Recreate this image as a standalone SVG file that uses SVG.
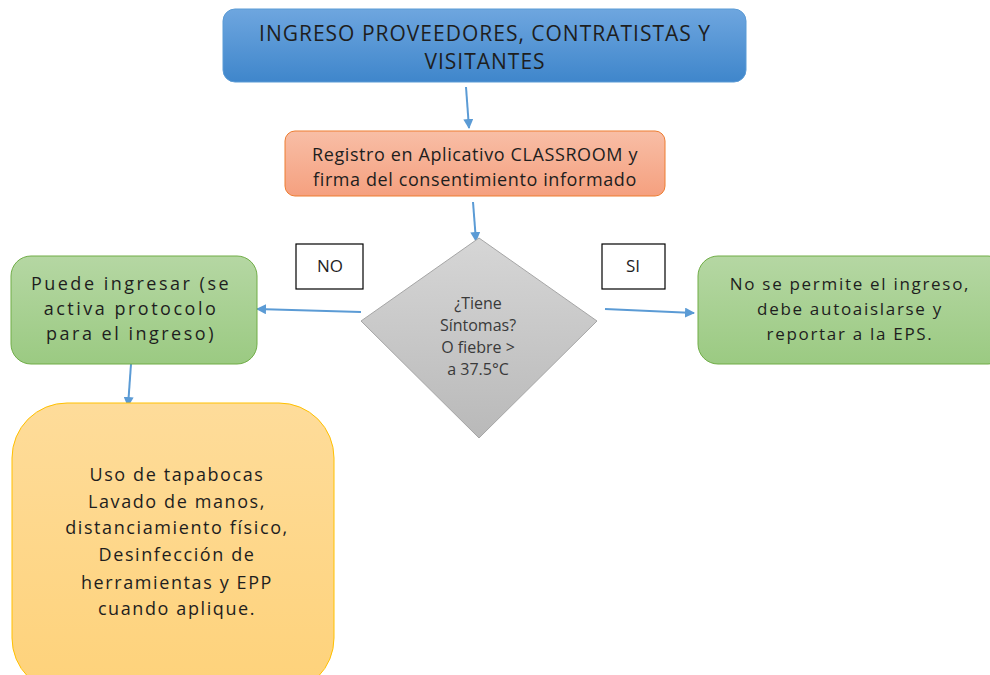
<svg xmlns="http://www.w3.org/2000/svg" width="990" height="675" viewBox="0 0 990 675">
<defs>
<linearGradient id="gBlue" x1="0" y1="0" x2="0" y2="1"><stop offset="0" stop-color="#6ea6df"/><stop offset="1" stop-color="#3f86cb"/></linearGradient>
<linearGradient id="gOrange" x1="0" y1="0" x2="0" y2="1"><stop offset="0" stop-color="#f8bea6"/><stop offset="1" stop-color="#f5a07f"/></linearGradient>
<linearGradient id="gGray" x1="0" y1="0" x2="0" y2="1"><stop offset="0" stop-color="#d6d6d6"/><stop offset="1" stop-color="#b9b9b9"/></linearGradient>
<linearGradient id="gGreen" x1="0" y1="0" x2="0" y2="1"><stop offset="0" stop-color="#b5d7a3"/><stop offset="1" stop-color="#9bca82"/></linearGradient>
<linearGradient id="gYellow" x1="0" y1="0" x2="0" y2="1"><stop offset="0" stop-color="#fedc9a"/><stop offset="1" stop-color="#fed27a"/></linearGradient>
<marker id="arr" viewBox="0 0 10 10" refX="9" refY="5" markerWidth="10" markerHeight="10" markerUnits="userSpaceOnUse" orient="auto"><path d="M0,0 L10,5 L0,10 z" fill="#5b9bd5"/></marker>
</defs>
<style>
text{font-family:"Open Sans","Liberation Sans",sans-serif;fill:#1e1e1e;text-anchor:middle}
.conn{stroke:#5b9bd5;stroke-width:2;fill:none;marker-end:url(#arr)}
.lbl{fill:#fff;stroke:#000;stroke-width:1.2}
.g{font-size:18px;letter-spacing:2.5px}
.y{font-size:18px;letter-spacing:1.6px}
.d{font-size:16px;fill:#3a3a3a}
</style>
<rect width="990" height="675" fill="#fff"/>
<g id="connectors">
<line class="conn" x1="466" y1="87" x2="469" y2="128"/>
<line class="conn" x1="473" y1="202" x2="476" y2="241"/>
<line class="conn" x1="361" y1="312" x2="257" y2="309"/>
<line class="conn" x1="605" y1="309" x2="694" y2="313"/>
<line class="conn" x1="131" y1="364" x2="128" y2="406"/>
</g>
<g id="n-ingreso">
<rect x="223" y="9" width="523" height="73" rx="12" fill="url(#gBlue)" stroke="#5b9bd5" stroke-width="1"/>
<text x="485" y="41" font-size="21" letter-spacing="1">INGRESO PROVEEDORES, CONTRATISTAS Y</text>
<text x="485" y="69" font-size="21" letter-spacing="1">VISITANTES</text>
</g>
<g id="n-registro">
<rect x="285" y="131" width="380" height="65" rx="10" fill="url(#gOrange)" stroke="#ed7d31" stroke-width="1"/>
<text x="475" y="161" font-size="18" letter-spacing="0.6">Registro en Aplicativo CLASSROOM y</text>
<text x="475" y="186" font-size="18" letter-spacing="0.6">firma del consentimiento informado</text>
</g>
<g id="n-decision">
<polygon points="479,238 597,321 479,438 361,321" fill="url(#gGray)" stroke="#a5a5a5" stroke-width="1"/>
<text class="d" x="478" y="309">¿Tiene</text>
<text class="d" x="478" y="331">Síntomas?</text>
<text class="d" x="478" y="353">O fiebre &gt;</text>
<text class="d" x="478" y="375">a 37.5°C</text>
</g>
<g id="l-no">
<rect class="lbl" x="296" y="244" width="67" height="45"/>
<text x="330" y="272" font-size="17">NO</text>
</g>
<g id="l-si">
<rect class="lbl" x="602" y="244" width="63" height="45"/>
<text x="633" y="272" font-size="17">SI</text>
</g>
<g id="n-puede">
<rect x="11" y="256" width="246" height="108" rx="20" fill="url(#gGreen)" stroke="#70ad47" stroke-width="1"/>
<text class="g" x="131" y="290">Puede ingresar (se</text>
<text class="g" x="131" y="315">activa protocolo</text>
<text class="g" x="131" y="340">para el ingreso)</text>
</g>
<g id="n-nopermite">
<rect x="698" y="256" width="310" height="108" rx="20" fill="url(#gGreen)" stroke="#70ad47" stroke-width="1"/>
<text x="850" y="290" font-size="17" letter-spacing="1.7">No se permite el ingreso,</text>
<text x="850" y="315" font-size="17" letter-spacing="1.7">debe autoaislarse y</text>
<text x="850" y="340" font-size="17" letter-spacing="1.7">reportar a la EPS.</text>
</g>
<g id="n-uso">
<rect x="12" y="403" width="322" height="290" rx="55" fill="url(#gYellow)" stroke="#ffc000" stroke-width="1"/>
<text class="y" x="177" y="481">Uso de tapabocas</text>
<text class="y" x="177" y="508">Lavado de manos,</text>
<text class="y" x="177" y="534">distanciamiento físico,</text>
<text class="y" x="177" y="561">Desinfección de</text>
<text class="y" x="177" y="589">herramientas y EPP</text>
<text class="y" x="177" y="615">cuando aplique.</text>
</g>
</svg>
